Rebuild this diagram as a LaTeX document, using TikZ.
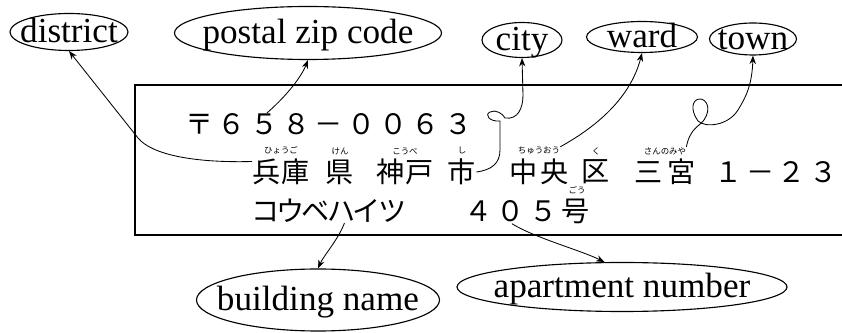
\documentclass[tikz,border=0pt]{standalone}
\usepackage{fontspec}
\setmainfont{Liberation Serif}
\newfontfamily\jpfont{Noto Sans CJK JP}
\usetikzlibrary{shapes.geometric,arrows.meta,positioning}

% label text with no size of its own, so the ellipse keeps the given size
\newcommand\lbltext[1]{\makebox[0pt]{\smash{\raisebox{-.3em}{#1}}}}

\tikzset{
  bubble/.style 2 args={ellipse, draw, line width=0.8pt, inner sep=0pt,
    minimum width=#1*0.025cm, minimum height=#2*0.025cm,
    font=\fontsize{25}{30}\selectfont},
  jp/.style={inner sep=0pt,
    font={\fontsize{20}{24}\selectfont\jpfont\addfontfeature{LetterSpace=#1}}},
  jp/.default=0,
  ruby/.style={inner sep=0pt, font={\fontsize{6}{6}\selectfont\jpfont}},
  conn/.style={-{Stealth[length=6pt,width=4.5pt]}, line width=0.6pt},
  frame/.style={line width=1pt}
}

\begin{document}
\begin{tikzpicture}[x=0.025cm, y=-0.025cm]
\useasboundingbox (0,0) rectangle (842,333);
\clip (0,0) rectangle (842,333);

% labels
\node [bubble={118}{37}] (district) at (69,32) {\lbltext{district}};
\node [bubble={267}{53}] (postal) at (308,33) {\lbltext{postal zip code}};
\node [bubble={80}{35}] (city) at (522,40) {\lbltext{city}};
\node [bubble={111}{31}] (ward) at (642,37) {\lbltext{ward}};
\node [bubble={87}{32}] (town) at (753,39) {\lbltext{town}};
\node [bubble={243}{62}] (building) at (318,300) {\lbltext{building name}};
\node [bubble={330}{49}] (apartment) at (622,287) {\lbltext{apartment number}};

% address card
\draw [frame] (135,85) rectangle (880,235);
\node [jp=15] (zip) at (329,124) {〒６５８－００６３};

\node [jp=3] (hyogo) at (281,172) {兵庫};
\node [jp] (ken) at (340,172) {県};
\node [jp] (kobe) at (405,172) {神戸};
\node [jp] (shi) at (462,172) {市};
\node [jp=8] (chuo) at (539,172) {中央};
\node [jp] (ku) at (596,172) {区};
\node [jp=15] (sannomiya) at (665,172) {三宮};
\node [jp=13] (banchi) at (776,172) {１－２３};

\node [ruby, above=1mm of hyogo] (hyogoR) {ひょうご};
\node [ruby, above=1mm of ken] (kenR) {けん};
\node [ruby, above=1mm of kobe] (kobeR) {こうべ};
\node [ruby, above=1mm of shi] (shiR) {し};
\node [ruby, above=1mm of chuo] (chuoR) {ちゅうおう};
\node [ruby, above=1mm of ku] (kuR) {く};
\node [ruby, above=1mm of sannomiya] (sannomiyaR) {さんのみや};

\node [jp=-9] (bldg) at (329,211) {コウベハイツ};
\node [jp=16] (room) at (527,211) {４０５号};
\node [ruby] (roomR) at (577,190) {ごう};

% connectors
\draw [conn] (hyogo.160) .. controls (195,163) and (152,155) .. (138,138) -- (district.south);
\draw [conn] (zip.170) .. controls (282,100) and (300,80) .. (postal.south);
\draw [conn] (shi.east) .. controls (492,170) and (500,163) .. (500,150) -- (500,121)
  .. controls (490,122) and (484,115) .. (490,112)
  .. controls (496,109) and (503,114) .. (505,118)
  .. controls (518,120) and (523,108) .. (523,95) -- (city.south);
\draw [conn] (chuoR.north east) .. controls (605,122) and (632,92) .. (ward.south);
\draw [conn] (sannomiyaR.north east) .. controls (690,128) and (700,126) .. (704,120)
  .. controls (712,108) and (706,99) .. (700,99)
  .. controls (692,99) and (690,110) .. (698,121)
  .. controls (705,128) and (728,126) .. (738,110)
  .. controls (746,97) and (752,85) .. (town.south);
\draw [conn] (bldg.-38) .. controls (338,240) and (324,255) .. (building.north);
\draw [conn] (room.220) .. controls (535,238) and (580,250) .. (apartment.125);
\end{tikzpicture}
\end{document}
